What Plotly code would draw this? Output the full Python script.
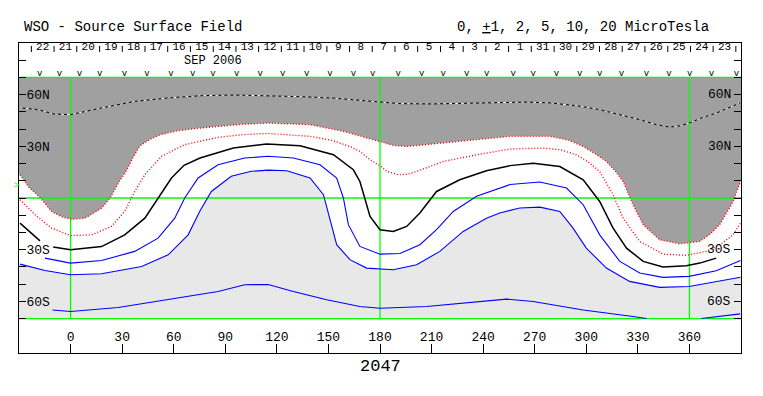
import plotly.graph_objects as go

# ---------------- axis frame (Carrington longitude / latitude) ----------------
LON_MIN, LON_MAX = -30, 390
LAT_MIN, LAT_MAX = -90, 90
LAT_EDGE = 70
FONT = "Liberation Mono"

lon_ticks = [0, 30, 60, 90, 120, 150, 180, 210, 240, 270, 300, 330, 360]
lat_ticks = [-80, -70, -60, -50, -40, -30, -20, -10, 0, 10, 20, 30, 40, 50, 60, 70, 80]
lat_label_map = {60: "60N", 30: "30N", -30: "30S", -60: "60S"}

# ---------------- contours ----------------
# -5 microtesla (dashed, inside dark grey)
neg5_lon = [-29.6, -18.8, -10, 0, 18, 37.4, 56.8, 76, 95, 115, 135, 152.9, 166, 180, 191.6, 210, 230,
            250, 265, 279, 295, 307.8, 320, 331, 341, 348.5, 354, 359.8, 367, 375.6, 383, 389.6]
neg5_lat = [52.4, 51.3, 48.8, 48.4, 52.3, 56.1, 58.1, 59.4, 59.8, 59.5, 58.8, 58.0, 57.0, 55.8, 54.8, 54.6, 55.0,
            55.5, 55.7, 55.2, 53.5, 51.3, 48.2, 45.5, 42.5, 41.2, 41.8, 43.5, 46.5, 49.3, 52.5, 55.2]

# -2 (outer red dotted, edge of dark grey)
neg2_lon = [-29.4, -24, -17.5, -11, -5, 0.8, 8.3, 14, 18, 23, 28, 32.8, 36.5, 40.5, 46, 52.1, 62, 75.3, 85.8,
            100, 114.9, 139.3, 158.7, 170, 180, 188, 195.5, 205, 216.8, 236.2, 255.6, 278.8, 290, 298.2,
            305, 311.7, 317, 321.4, 327.2, 333.1, 342.7, 354.4, 366, 372, 377.6, 382, 385.4, 389.7]
neg2_lat = [13.5, 6, 0, -7.8, -11, -12.4, -11.7, -8.5, -5.9, 0, 9, 16.4, 24, 30.4, 34, 36.7, 39, 40.6, 41.6,
            42.8, 43.5, 42.6, 38.7, 35.5, 32.9, 30.5, 29.9, 30.8, 31.9, 33.8, 35.8, 35.8, 33.5, 29.9,
            25.8, 21.2, 15.5, 9.6, -3.9, -15.5, -24.3, -26.6, -25.2, -21, -15.5, -8, -2, 9.6]

# -1 (inner red dotted)
neg1_lon = [-29.4, -20.7, -11, 0, 12.2, 23.8, 31.5, 37.3, 43.2, 52.9, 66.4, 85.8, 100, 114.9, 139.3, 152,
            162.5, 168.4, 174.2, 180, 184, 190.6, 196, 201.3, 216.8, 236.2, 255.6, 274.9, 285, 294.3, 301,
            307.8, 315.6, 321.4, 331.1, 344.6, 358.2, 369.8, 378, 385.3, 389.7]
neg1_lat = [-1, -9.7, -17.5, -21.8, -21.4, -16.5, -7.8, 3.8, 13.5, 24.2, 31, 35.2, 36.8, 37.5, 35.8, 33.5,
            29.9, 27, 22.2, 18.7, 15.5, 13.5, 13.8, 15.4, 21.2, 25.1, 28.4, 29, 28, 25.1, 21,
            15.4, 1.9, -11.7, -25.2, -32.6, -33.3, -31, -27, -21.4, -14.6]

# 0 (neutral line, black)
zero_lon = [-29.4, -17.8, None, -10.1, 0, 18, 31.5, 43.2, 50.9, 58.7, 66, 75.3, 94.7, 114.1, 133.5, 152.9,
            164.5, 168.3, 170.3, 172.2, 174.2, 180, 187.7, 195.5, 203.2, 212.9, 226.4, 241.9, 255.6,
            269.1, 284.6, 298.2, 307.8, 315.6, 323.4, 333.1, 344.6, 358.2, 366, 375.6]
zero_lat = [-14.6, -24.9, None, -28.5, -30.1, -28.2, -21.4, -11.7, 0, 11.6, 19, 23.2, 29, 31.3, 30.3, 25.1,
            16.4, 9.6, 2.8, -3.9, -10.7, -18.4, -19.4, -16.5, -8.7, 3.8, 10.6, 15.8, 18.8,
            20.2, 18.3, 10.6, -2, -17.5, -29.1, -36.8, -40.1, -39.3, -37.8, -34.9]

# +1 (blue)
pos1_lon = [-14.9, 0, 18, 37.3, 50.9, 60.6, 66.4, 74.2, 85.8, 101.3, 114.9, 129.6, 145.1, 154.8, 158.7,
            161.6, 168.3, 180, 191.6, 203.2, 212.9, 222.6, 236.2, 249.7, 255.6, 273, 288.5, 298.2, 307.8,
            319.5, 331.1, 344.6, 359.8, 375.6, 389.7]
pos1_lat = [-34.9, -37.8, -36.3, -31, -23.3, -11.7, 0, 11.6, 19.3, 23.2, 24.2, 23.2, 19.3, 11.6, 0,
            -15.5, -28.1, -32.6, -32.2, -27.1, -18.4, -7.8, 1, 5.8, 7.8, 9.3, 5.8, -3.9, -21.4,
            -36.8, -43.6, -46.1, -45.5, -42.2, -36.3]

# +2 (blue, edge of light grey)
pos2_lon = [-29.4, -14.9, 0, 18, 41.3, 56.8, 68.4, 75.1, 81.9, 93.5, 105.1, 115, 125.8, 139.3, 147.1,
            150.9, 154.8, 162.5, 172.2, 187.7, 201.3, 214.8, 228.4, 241.9, 249.7, 261.3, 273, 284.6,
            292.3, 300, 311.7, 325.2, 342.7, 359.8, 375.6, 389.7]
pos2_lat = [-38.4, -42.1, -44.6, -44, -39.8, -33, -21.4, -7.8, 3.8, 12.6, 15.5, 16.2, 15.8, 11.6, 1.9,
            -11.7, -27.1, -35.8, -40.7, -41.7, -38.8, -31, -19.4, -11.7, -8.7, -5.8, -5.3, -7.8,
            -17.5, -29.1, -40.7, -48.4, -51.9, -51.4, -48.4, -46]

# +5 (blue, far south)
pos5_lon = [-10.5, 0, 27.7, 56.8, 85.8, 101.3, 110.3, 114.9, 129.6, 149, 168.3, 180, 207.1, 236.2, 253.6,
            269.1, 298.2, 327.2, 335, None, 367, 378, 389.5]
pos5_lat = [-65, -65.9, -63.6, -59.1, -54.3, -50.4, -50, -50.2, -54.3, -59.1, -63, -64, -63, -60.1, -58.7,
            -60.1, -65, -68.8, -70, None, -70, -68.5, -67.3]

# ---------------- top strip: observation days ----------------
day_labels = ["22", "21", "20", "19", "18", "17", "16", "15", "14", "13", "12", "11", "10", "9", "8",
              "7", "6", "5", "4", "3", "2", "1", "31", "30", "29", "28", "27", "26", "25", "24", "23"]
day_sep_lon = [-22.8, -9.6, 3.6, 16.9, 30.1, 43.3, 56.5, 69.7, 83.0, 96.2, 109.4, 122.6, 135.8, 149.1,
               162.3, 175.5, 188.7, 201.9, 215.2, 228.4, 241.6, 254.8, 268.0, 281.3, 294.5, 307.7,
               320.9, 334.1, 347.4, 360.6, 373.8, 387.0]
obs_lon = [-18.0, -6.4, 5.2, 16.9, 31.4, 44.4, 58.4, 71.1, 82.8, 96.7, 110.3, 123.4, 137.4, 150.9, 164.5,
           175.8, 190.6, 204.2, 216.8, 230.4, 242.0, 257.5, 269.1, 282.7, 296.2, 307.8, 320.5, 335.0,
           348.1, 360.2, 372.8, 387.3]
month_label = "SEP 2006"
month_label_lon = 83
earth_b0_lat = 7.0
rotation = "2047"

DARK = "#a0a0a0"
LIGHT = "#e8e8e8"
GREEN = "#00ff00"
BLUE = "#0000ff"
RED = "#ff0000"

# page body has an 8px default margin; plot area wanted at x 19..741, y 43..353 of the window
BODY = 8
PL, PT, PW, PH = 19, 43, 722, 310

fig = go.Figure()


def line(x, y, color, width=1, dash=None):
    fig.add_trace(go.Scatter(x=x, y=y, mode="lines", hoverinfo="skip", showlegend=False,
                             line=dict(color=color, width=width, dash=dash), connectgaps=False))


# dark grey polygon (north of -2 contour)
dk_x = [LON_MIN] + neg2_lon + [LON_MAX, LON_MAX, LON_MIN]
dk_y = [neg2_lat[0]] + neg2_lat + [neg2_lat[-1], LAT_EDGE, LAT_EDGE]
fig.add_trace(go.Scatter(x=dk_x, y=dk_y, mode="lines", fill="toself", fillcolor=DARK,
                         line=dict(width=0, color=DARK), hoverinfo="skip", showlegend=False))
# light grey polygon (south of +2 contour)
lt_x = [LON_MIN] + pos2_lon + [LON_MAX, LON_MAX, LON_MIN]
lt_y = [pos2_lat[0]] + pos2_lat + [pos2_lat[-1], -LAT_EDGE, -LAT_EDGE]
fig.add_trace(go.Scatter(x=lt_x, y=lt_y, mode="lines", fill="toself", fillcolor=LIGHT,
                         line=dict(width=0, color=LIGHT), hoverinfo="skip", showlegend=False))

# green reference lines
for lat in (LAT_EDGE, 0, -LAT_EDGE):
    line([LON_MIN, LON_MAX], [lat, lat], GREEN, 1.3)
for lon in (0, 180, 360):
    line([lon, lon], [-LAT_EDGE, LAT_EDGE], GREEN, 1.3)

# contours
line(neg5_lon, neg5_lat, "black", 1.0)
line(neg5_lon, neg5_lat, "white", 1.0, "3px,3px")
line(neg2_lon, neg2_lat, RED, 1.4, "1px,2px")
line(neg1_lon, neg1_lat, RED, 1.4, "1px,2px")
line(zero_lon, zero_lat, "black", 1.5)
line(pos1_lon, pos1_lat, BLUE, 1.1)
line(pos2_lon, pos2_lat, BLUE, 1.1)
line(pos5_lon, pos5_lat, BLUE, 1.1)

# day separators
sx, sy = [], []
for lon in day_sep_lon:
    sx += [lon, lon, None]
    sy += [88.3, 84.8, None]
line(sx, sy, "black", 1)

# day labels (midpoints between separators)
mid = [(a + b) / 2 for a, b in zip(day_sep_lon[:-1], day_sep_lon[1:])]
fig.add_trace(go.Scatter(x=mid, y=[87.4] * len(mid), mode="text", text=day_labels,
                         textfont=dict(family=FONT, size=11, color="black"),
                         hoverinfo="skip", showlegend=False, cliponaxis=False))
# observation markers
fig.add_trace(go.Scatter(x=obs_lon, y=[72.0] * len(obs_lon), mode="text", text=["v"] * len(obs_lon),
                         textfont=dict(family=FONT, size=9, color="black"),
                         hoverinfo="skip", showlegend=False, cliponaxis=False))

fig.update_xaxes(range=[LON_MIN, LON_MAX], showgrid=False, zeroline=False, showline=True,
                 linecolor="black", linewidth=1, mirror=True, ticks="inside", ticklen=9,
                 tickcolor="black", tickwidth=1, tickvals=lon_ticks, ticktext=[str(v) for v in lon_ticks],
                 ticklabelposition="inside", tickfont=dict(family=FONT, size=13, color="black"))
fig.update_yaxes(range=[LAT_MIN, LAT_MAX], showgrid=False, zeroline=False, showline=True,
                 linecolor="black", linewidth=1, mirror="ticks", ticks="inside", ticklen=7,
                 tickcolor="black", tickwidth=1, tickvals=lat_ticks,
                 ticktext=[lat_label_map.get(v, "") for v in lat_ticks],
                 ticklabelposition="inside", tickfont=dict(family=FONT, size=13, color="black"))


def px(x):
    return (x - PL) / PW


def py(y):
    return (PT + PH - y) / PH


ann = []
for lat, txt in lat_label_map.items():
    ann.append(dict(x=385.5, y=lat, xref="x", yref="y", text=txt, showarrow=False, xanchor="right",
                    yanchor="middle", font=dict(family=FONT, size=13, color="black")))
ann.append(dict(x=px(22), y=py(27), xref="paper", yref="paper", text="WSO - Source Surface Field",
                showarrow=False, xanchor="left", yanchor="middle",
                font=dict(family=FONT, size=14, color="black")))
ann.append(dict(x=px(711), y=py(27), xref="paper", yref="paper",
                text="0, <u>+</u>1, 2, 5, 10, 20 MicroTesla",
                showarrow=False, xanchor="right", yanchor="middle",
                font=dict(family=FONT, size=14, color="black")))
ann.append(dict(x=month_label_lon, y=79.3, xref="x", yref="y", text=month_label, showarrow=False,
                xanchor="center", yanchor="middle", font=dict(family=FONT, size=12, color="black")))
ann.append(dict(x=px(380.5), y=py(366), xref="paper", yref="paper", text=rotation, showarrow=False,
                xanchor="center", yanchor="middle", font=dict(family=FONT, size=17, color="black")))
ann.append(dict(x=px(16.5), y=(earth_b0_lat - LAT_MIN) / (LAT_MAX - LAT_MIN), xref="paper", yref="paper",
                text=">", showarrow=False, xanchor="center", yanchor="middle",
                font=dict(family=FONT, size=9, color=GREEN)))

fig.update_layout(width=763, height=396,
                  margin=dict(l=PL - BODY, r=763 - (PL - BODY) - PW, t=PT - BODY, b=396 - (PT - BODY) - PH),
                  plot_bgcolor="white", paper_bgcolor="white", showlegend=False, annotations=ann)

fig.write_html("out.html")
